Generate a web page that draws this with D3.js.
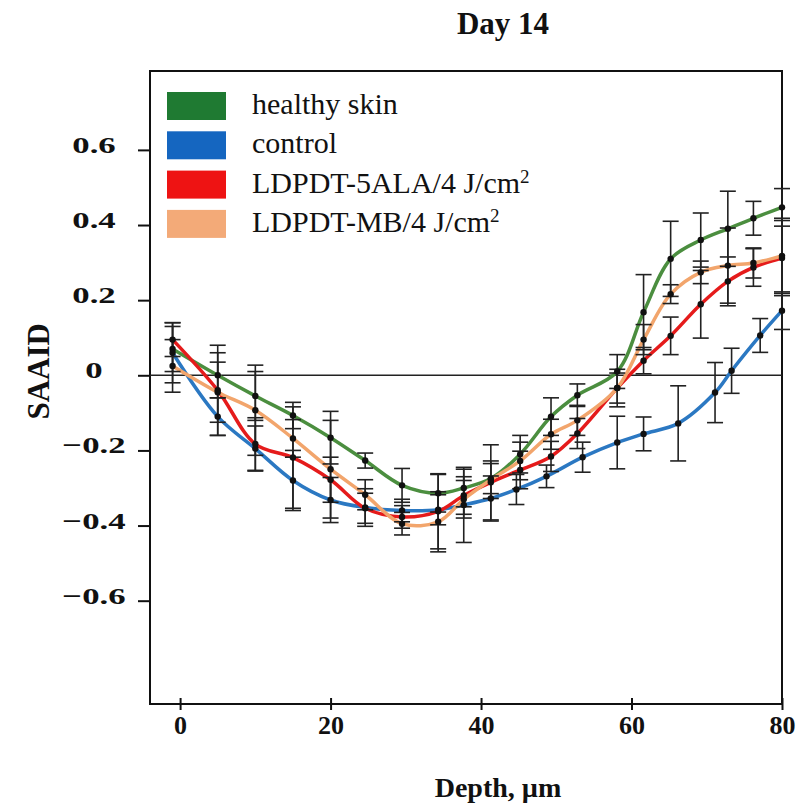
<!DOCTYPE html>
<html>
<head>
<meta charset="utf-8">
<script src="https://cdn.jsdelivr.net/npm/d3@7"></script>
<style>
  html, body { margin: 0; padding: 0; background: #fff; }
  svg { display: block; }
  text { font-family: "Liberation Serif", "Times New Roman", serif; fill: #111; }
</style>
</head>
<body>
<svg id="chart" width="797" height="805"></svg>
<script>
// ---- data ----
const seriesNames = ["healthy skin", "control", "LDPDT-5ALA/4 J/cm", "LDPDT-MB/4 J/cm"];
const seriesColors = ["#4b8e3f", "#2b78c2", "#e51b1b", "#f2a56c"];
const legendColors = ["#1f7a32", "#1566c0", "#ee1313", "#f3aa78"];

const greenDepth = [-1, 5, 10, 15, 20, 24.6, 29.5, 34.3, 37.7, 41.3, 45.2, 49.3, 52.8, 58.1, 61.6, 65.2, 69.2, 72.8, 76.2, 80];
const greenValue = [0.07, 0.0, -0.055, -0.107, -0.166, -0.227, -0.293, -0.314, -0.30, -0.275, -0.21, -0.11, -0.053, 0.01, 0.168, 0.31, 0.36, 0.39, 0.418, 0.447];
const greenError = [0.06, 0.06, 0.065, 0.035, 0.07, 0.02, 0.045, 0.05, 0.05, 0.04, 0.05, 0.05, 0.03, 0.045, 0.1, 0.1, 0.072, 0.1, 0.045, 0.05];

const blueDepth = [-1, 5, 10, 15, 20, 24.6, 29.5, 34.3, 37.7, 41.3, 44.7, 48.7, 53.5, 58.1, 61.6, 66.2, 71.1, 73.3, 77.1, 80];
const blueValue = [0.06, -0.11, -0.195, -0.28, -0.332, -0.352, -0.36, -0.358, -0.345, -0.328, -0.304, -0.269, -0.218, -0.179, -0.156, -0.128, -0.046, 0.012, 0.106, 0.172];
const blueError = [0.08, 0.05, 0.06, 0.08, 0.06, 0.05, 0.03, 0.04, 0.1, 0.06, 0.04, 0.03, 0.04, 0.07, 0.045, 0.1, 0.08, 0.06, 0.045, 0.05];

const redDepth = [-1, 5, 10, 15, 20, 24.6, 29.5, 34.3, 37.7, 41.3, 45.2, 49.3, 52.8, 58.1, 61.6, 65.2, 69.2, 72.8, 76.2, 80];
const redValue = [0.095, -0.04, -0.183, -0.219, -0.278, -0.354, -0.377, -0.362, -0.32, -0.285, -0.252, -0.216, -0.155, -0.034, 0.039, 0.105, 0.189, 0.25, 0.287, 0.312];
const redError = [0.045, 0.12, 0.07, 0.135, 0.06, 0.04, 0.03, 0.1, 0.05, 0.1, 0.05, 0.04, 0.04, 0.05, 0.035, 0.05, 0.09, 0.065, 0.05, 0.1];

const orangeDepth = [-1, 5, 10, 15, 20, 24.6, 29.5, 34.3, 37.7, 41.3, 45.2, 49.3, 52.8, 58.1, 61.6, 65.2, 69.2, 72.8, 76.2, 80];
const orangeValue = [0.025, -0.045, -0.093, -0.168, -0.25, -0.318, -0.395, -0.39, -0.33, -0.278, -0.228, -0.157, -0.12, -0.034, 0.095, 0.216, 0.274, 0.292, 0.299, 0.318];
const orangeError = [0.07, 0.08, 0.12, 0.05, 0.13, 0.04, 0.03, 0.08, 0.05, 0.05, 0.05, 0.04, 0.04, 0.04, 0.04, 0.025, 0.03, 0.1, 0.04, 0.1];

const xTicks = [0, 20, 40, 60, 80];
const yTicks = [0.6, 0.4, 0.2, 0, -0.2, -0.4, -0.6];
const yTickLabels = ["0.6", "0.4", "0.2", "0", "\u22120.2", "\u22120.4", "\u22120.6"];

const titleText = "Day 14";
const xLabel = "Depth, \u00b5m";
const yLabel = "SAAID";

(function () {
// ---- layout ----
const svg = d3.select("#chart");
const pLeft = 150, pRight = 782, pTop = 71, pBottom = 704;

const x = d3.scaleLinear().domain([-4, 80]).range([pLeft, pRight]);
const y = d3.scaleLinear().domain([-0.875, 0.81]).range([pBottom, pTop]);

const series = [
  { depth: greenDepth, value: greenValue, err: greenError },
  { depth: blueDepth, value: blueValue, err: blueError },
  { depth: redDepth, value: redValue, err: redError },
  { depth: orangeDepth, value: orangeValue, err: orangeError }
].map((s, i) => ({
  name: seriesNames[i], color: seriesColors[i],
  pts: s.depth.map((d, j) => ({ d, v: s.value[j], e: s.err[j] }))
}));

// frame
svg.append("rect").attr("x", pLeft).attr("y", pTop)
  .attr("width", pRight - pLeft).attr("height", pBottom - pTop)
  .attr("fill", "none").attr("stroke", "#111").attr("stroke-width", 2);

// zero line
svg.append("line").attr("x1", pLeft).attr("x2", pRight)
  .attr("y1", y(0)).attr("y2", y(0))
  .attr("stroke", "#222").attr("stroke-width", 1.5);

// y axis (ticks outward)
const yAxis = d3.axisLeft(y).tickValues(yTicks).tickSize(12).tickFormat(() => "");
const gy = svg.append("g").attr("transform", `translate(${pLeft},0)`).call(yAxis);
gy.select(".domain").remove();
gy.selectAll(".tick line").attr("stroke", "#111").attr("stroke-width", 2);

// y tick labels (horizontally stretched as in source)
yTicks.forEach((t, i) => {
  svg.append("text")
    .attr("transform", `translate(94,${y(t) + 3}) scale(1.45,1)`)
    .attr("text-anchor", "middle")
    .attr("font-size", 24).attr("font-weight", "bold")
    .text(yTickLabels[i]);
});

// x axis
const xAxis = d3.axisBottom(x).tickValues(xTicks).tickSize(6).tickPadding(6)
  .tickFormat(d3.format("d"));
const gx = svg.append("g").attr("transform", `translate(0,${pBottom})`).call(xAxis);
gx.select(".domain").remove();
gx.selectAll(".tick line").attr("y1", -6).attr("y2", 6).attr("stroke", "#111").attr("stroke-width", 2);
gx.selectAll(".tick text")
  .attr("font-family", "Liberation Serif, serif")
  .attr("font-size", 26).attr("font-weight", "bold").attr("fill", "#111");

// lines
const line = d3.line().x(p => x(p.d)).y(p => y(p.v)).curve(d3.curveCatmullRom.alpha(0.5));
const plot = svg.append("g");
series.forEach(s => {
  plot.append("path").datum(s.pts)
    .attr("d", line).attr("fill", "none")
    .attr("stroke", s.color).attr("stroke-width", 3.5)
    .attr("stroke-linejoin", "round").attr("stroke-linecap", "round");
});

// error bars
const cap = 8;
series.forEach(s => {
  const g = plot.append("g").attr("stroke", "#222").attr("stroke-width", 1.6);
  s.pts.forEach(p => {
    const cx = x(p.d);
    g.append("line").attr("x1", cx).attr("x2", cx).attr("y1", y(p.v + p.e)).attr("y2", y(p.v - p.e));
    g.append("line").attr("x1", cx - cap).attr("x2", cx + cap).attr("y1", y(p.v + p.e)).attr("y2", y(p.v + p.e));
    g.append("line").attr("x1", cx - cap).attr("x2", cx + cap).attr("y1", y(p.v - p.e)).attr("y2", y(p.v - p.e));
  });
});

// dots
series.forEach(s => {
  plot.append("g").selectAll("circle").data(s.pts).join("circle")
    .attr("cx", p => x(p.d)).attr("cy", p => y(p.v)).attr("r", 3.2)
    .attr("fill", "#111");
});

// title
svg.append("text").attr("x", 503).attr("y", 34).attr("text-anchor", "middle")
  .attr("font-size", 31).attr("font-weight", "bold").text(titleText);

// x label
svg.append("text").attr("x", 498).attr("y", 797).attr("text-anchor", "middle")
  .attr("font-size", 28).attr("font-weight", "bold").text(xLabel);

// y label
svg.append("text").attr("transform", `translate(49,${y(0) - 4}) rotate(-90)`)
  .attr("text-anchor", "middle")
  .attr("font-size", 31).attr("font-weight", "bold").text(yLabel);

// legend
const legend = svg.append("g");
seriesNames.forEach((n, i) => {
  const ly = 92 + i * 39.3;
  legend.append("rect").attr("x", 167).attr("y", ly).attr("width", 59).attr("height", 28)
    .attr("fill", legendColors[i]);
  const t = legend.append("text").attr("x", 252).attr("y", ly + 22)
    .attr("font-size", 30).text(n);
  if (i >= 2) {
    t.append("tspan").attr("dy", -10).attr("font-size", 19).text("2");
  }
});
})();
</script>
</body>
</html>
